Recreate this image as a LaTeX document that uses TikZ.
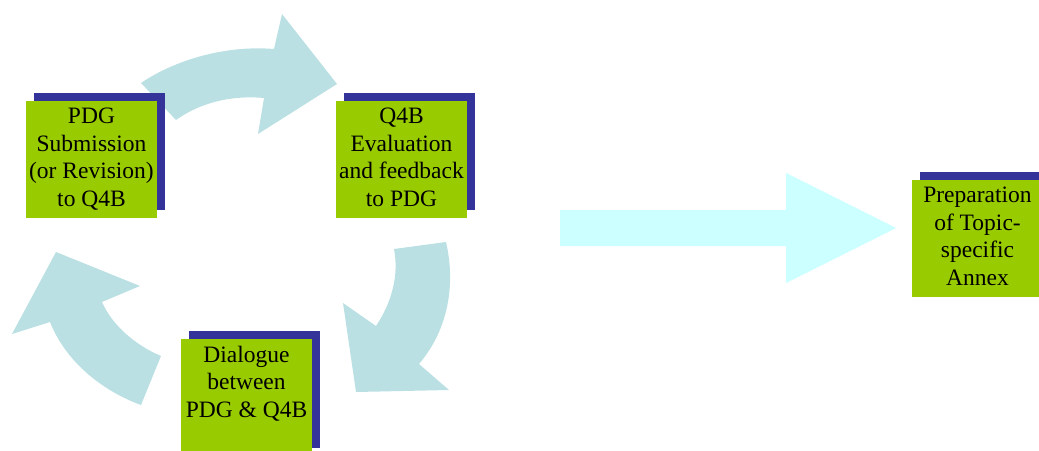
\documentclass[tikz,border=0pt]{standalone}
\usepackage{fontspec}
\setmainfont{Liberation Serif}
\definecolor{boxgreen}{HTML}{99CC00}
\definecolor{shadowblue}{HTML}{333399}
\definecolor{cyclearrow}{HTML}{BBE0E3}
\definecolor{annexarrow}{HTML}{CCFFFF}

\begin{document}
\begin{tikzpicture}[x=1pt, y=-1pt,
  stepbox/.style={fill=boxgreen, minimum width=131pt, minimum height=117pt, inner sep=0pt,
    preaction={fill=shadowblue, transform canvas={shift={(8pt,8pt)}}}},
  boxtext/.style={anchor=north, align=center, inner sep=0pt, yshift=-7pt,
    font=\fontsize{23.5}{27.5}\selectfont},
  cyclefill/.style={fill=cyclearrow},
  annexfill/.style={fill=annexarrow}]
  \useasboundingbox (0,0) rectangle (1039,450);
  \clip (0,0) rectangle (1039,450);
  % cycle arrows
  \fill[cyclefill] (141,83) .. controls (175,60) and (225,45) .. (274,49) -- (282,14) -- (337,84)
    -- (258,134) -- (264,98) .. controls (230,95) and (200,103) .. (176,120) -- cycle;
  \fill[cyclefill] (446,242) .. controls (456,285) and (448,330) .. (419,364) -- (449,390) -- (356,392)
    -- (343,303) -- (376,326) .. controls (392,302) and (399,275) .. (394,249) -- cycle;
  \fill[cyclefill] (141,405) .. controls (100,390) and (65,360) .. (50,322) -- (12,334) -- (56,252)
    -- (140,286) -- (102,302) .. controls (112,325) and (135,345) .. (161,356) -- cycle;
  % arrow to annex
  \fill[annexfill] (560,210) -- (786,210) -- (786,173) -- (896,228) -- (786,283) -- (786,246) -- (560,246) -- cycle;
  % steps
  \node[stepbox] (submit) at (91.5,159.5) {};
  \node[stepbox] (evaluate) at (401.5,159.5) {};
  \node[stepbox] (dialogue) at (246.5,397.5) {};
  \node[stepbox] (annex) at (977.5,238.5) {};
  \node[boxtext] (submittext) at (submit.north) {PDG\\Submission\\(or Revision)\\to Q4B};
  \node[boxtext] (evaluatetext) at (evaluate.north) {Q4B\\Evaluation\\and feedback\\to PDG};
  \node[boxtext] (dialoguetext) at (dialogue.north) {Dialogue\\between\\PDG \& Q4B};
  \node[boxtext] (annextext) at (annex.north) {Preparation\\of Topic-\\specific\\Annex};
\end{tikzpicture}
\end{document}
